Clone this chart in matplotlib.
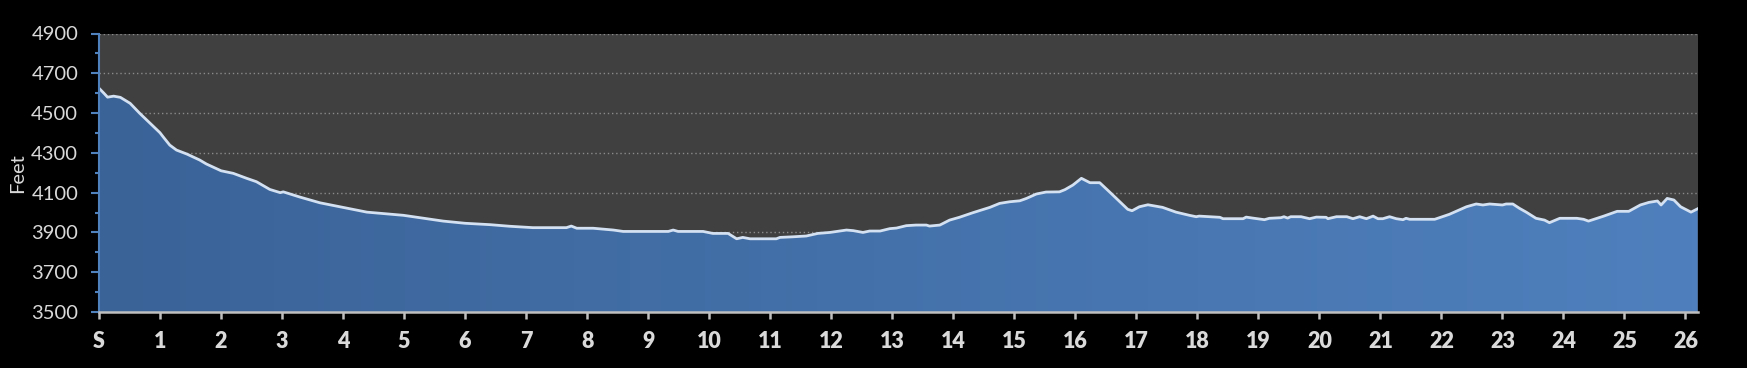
import numpy as np
import matplotlib
matplotlib.use("Agg")
import matplotlib.pyplot as plt
from matplotlib.colors import LinearSegmentedColormap

miles = [0.00, 0.08, 0.14, 0.24, 0.35, 0.45, 0.51, 0.67, 0.84, 1.00, 1.05, 1.16, 1.27, 1.44, 1.65, 1.76,
         2.00, 2.20, 2.42, 2.58, 2.80, 2.97, 3.02, 3.29, 3.62, 4.00, 4.39, 4.99, 5.31, 5.64, 6.00, 6.41,
         6.73, 7.11, 7.66, 7.74, 7.83, 8.10, 8.43, 8.59, 9.33, 9.41, 9.49, 9.90, 10.06, 10.31, 10.45,
         10.55, 10.67, 11.10, 11.16, 11.37, 11.59, 11.78, 11.98, 12.25, 12.36, 12.52, 12.63, 12.80,
         12.96, 13.07, 13.23, 13.39, 13.56, 13.61, 13.78, 13.94, 14.10, 14.32, 14.60, 14.76, 14.92,
         15.09, 15.20, 15.36, 15.52, 15.74, 15.83, 15.96, 16.10, 16.24, 16.40, 16.56, 16.73, 16.86,
         16.93, 17.05, 17.19, 17.43, 17.65, 17.87, 17.98, 18.03, 18.37, 18.42, 18.75, 18.80, 18.91,
         19.10, 19.18, 19.37, 19.42, 19.48, 19.53, 19.59, 19.70, 19.84, 19.95, 20.11, 20.14, 20.28,
         20.45, 20.55, 20.66, 20.77, 20.88, 20.96, 21.04, 21.15, 21.26, 21.37, 21.42, 21.48, 21.89,
         22.13, 22.41, 22.57, 22.68, 22.79, 23.00, 23.06, 23.17, 23.28, 23.39, 23.55, 23.69, 23.77,
         23.94, 24.22, 24.33, 24.41, 24.66, 24.88, 25.07, 25.26, 25.40, 25.54, 25.60, 25.70, 25.81,
         25.92, 26.09, 26.20]
elevation = [4625, 4600, 4580, 4585, 4579, 4560, 4549, 4498, 4448, 4401, 4381, 4339, 4314, 4294, 4264, 4244,
             4210, 4197, 4172, 4155, 4116, 4100, 4104, 4078, 4049, 4026, 4002, 3986, 3972, 3957, 3946, 3939,
             3931, 3924, 3924, 3932, 3921, 3921, 3912, 3905, 3905, 3912, 3905, 3905, 3895, 3895, 3868,
             3875, 3868, 3868, 3875, 3878, 3882, 3895, 3900, 3912, 3909, 3900, 3907, 3907,
             3919, 3922, 3934, 3937, 3937, 3932, 3937, 3962, 3976, 3999, 4026, 4046, 4054,
             4059, 4071, 4093, 4103, 4104, 4115, 4138, 4172, 4150, 4150, 4104, 4054, 4016,
             4009, 4029, 4039, 4026, 4002, 3986, 3979, 3982, 3976, 3969, 3969, 3977, 3972,
             3964, 3971, 3974, 3979, 3972, 3979, 3979, 3979, 3969, 3977, 3976, 3969, 3979,
             3979, 3969, 3979, 3969, 3982, 3969, 3969, 3979, 3969, 3964, 3971, 3966, 3966,
             3991, 4029, 4043, 4038, 4043, 4038, 4043, 4043, 4021, 4002, 3971, 3962, 3949,
             3971, 3971, 3966, 3957, 3982, 4006, 4006, 4038, 4051, 4058, 4038, 4071, 4063,
             4029, 4002, 4019]

x_ticks = list(range(27))
x_labels = ["S"] + [str(i) for i in range(1, 27)]
y_major = list(range(3500, 4901, 200))
y_minor = list(range(3600, 4900, 200))

plt.rcParams['font.family'] = ['Lato', 'DejaVu Sans']

fig = plt.figure(figsize=(17.47, 3.68), dpi=100, facecolor='black')
ax = fig.add_axes([99 / 1747, 1 - 312 / 368, (1697.7 - 99) / 1747, (312 - 33.5) / 368])
ax.set_facecolor('#404040')

xmax = 26.2
ax.set_xlim(0, xmax)
ax.set_ylim(3500, 4900)

# gradient fill
poly = ax.fill_between(miles, elevation, 3500, facecolor='none', edgecolor='none', zorder=2)
cmap = LinearSegmentedColormap.from_list('g', ['#3a6398', '#4f80bd'])
grad = np.linspace(0, 1, 256).reshape(1, -1)
im = ax.imshow(grad, extent=[0, xmax, 3500, 4900], aspect='auto', cmap=cmap, zorder=2, origin='lower')
im.set_clip_path(poly.get_paths()[0], transform=ax.transData)
ax.plot(miles, elevation, color='#d3e1f2', lw=2.0, zorder=3, solid_joinstyle='round')

# grid
ax.set_yticks(y_major)
ax.set_yticks(y_minor, minor=True)
ax.yaxis.grid(True, which='major', color='#8a8a8a', linestyle=(0, (1, 2)), lw=1.0, zorder=1)
ax.set_axisbelow(True)

ax.set_xticks(x_ticks)
ax.set_xticklabels(x_labels)

for s in ['top', 'right']:
    ax.spines[s].set_visible(False)
ax.spines['left'].set_color('#4f81bd')
ax.spines['left'].set_linewidth(1.5)
ax.spines['bottom'].set_color('#bfbfbf')
ax.spines['bottom'].set_linewidth(1.8)
ax.spines['left'].set_zorder(4)
ax.spines['bottom'].set_zorder(4)

ax.tick_params(axis='y', which='major', length=6, width=1.5, color='#4f81bd', pad=9,
               labelsize=14.5, labelcolor='#d9d9d9')
ax.tick_params(axis='y', which='minor', length=3, width=1.5, color='#4f81bd')
ax.tick_params(axis='x', which='major', length=5, width=1.8, color='#bfbfbf', pad=9,
               labelsize=15.5, labelcolor='#dadada')
for lab in ax.get_xticklabels():
    lab.set_fontweight('heavy')

fig.text(18 / 1747, 1 - 173 / 368, 'Feet', rotation=90, color='#d9d9d9', fontsize=14.5,
         ha='center', va='center')

fig.savefig('out.png', dpi=100, facecolor='black')
